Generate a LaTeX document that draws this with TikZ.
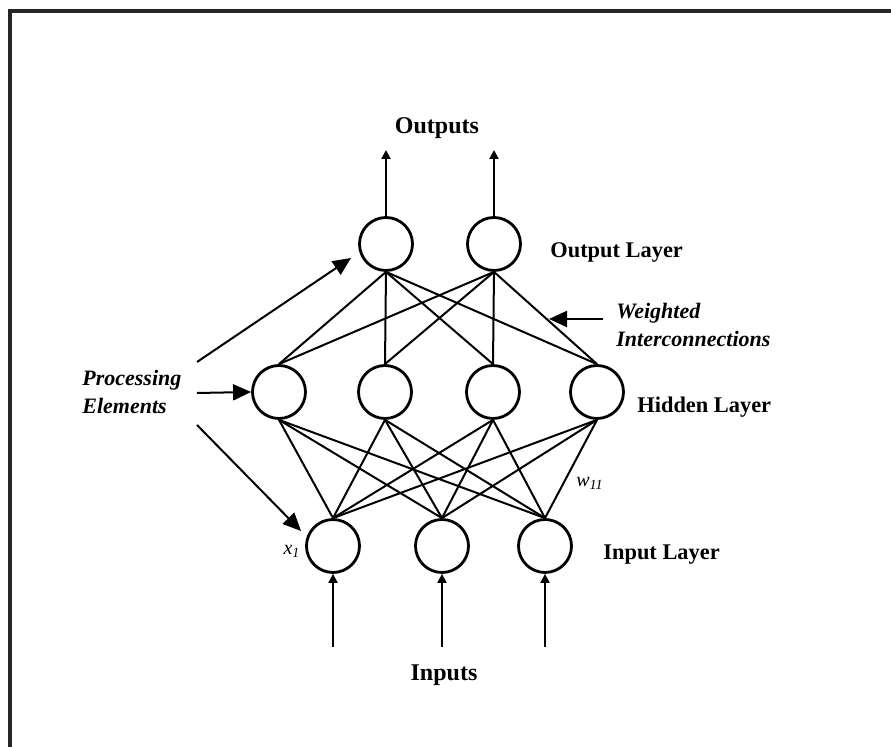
\documentclass[tikz,border=0pt]{standalone}
\usepackage{fontspec}
\setmainfont{Liberation Serif}
\usetikzlibrary{arrows.meta}
\tikzset{
  neuron/.style={circle, draw, line width=1.4pt, minimum size=26.5pt, inner sep=0pt},
  link/.style={line width=1pt},
  bigarrow/.style={line width=1pt, -{Triangle[length=9pt,width=8pt]}},
  smallarrow/.style={line width=1pt, -{Triangle[length=4.5pt,width=4.5pt]}},
  lbl/.style={font=\fontsize{11.2}{13}\selectfont\bfseries, inner sep=0pt},
  ilbl/.style={font=\fontsize{11}{14}\selectfont\bfseries\itshape, inner sep=0pt, align=left},
  title/.style={font=\fontsize{12}{14}\selectfont\bfseries, inner sep=0pt},
  frameline/.style={line width=1.6pt, black!85}
}
\begin{document}
\begin{tikzpicture}[x=0.5pt,y=-0.5pt]
\useasboundingbox (0,0) rectangle (891,747);
% frame
\coordinate (fTL) at (10,11);
\coordinate (fTR) at (891,11);
\coordinate (fBL) at (10,747);
\draw[frameline] (fTR) -- (fTL) -- (fBL);

% neurons
\node[neuron] (o1) at (386,244) {};
\node[neuron] (o2) at (494,244) {};
\node[neuron] (h1) at (279,392) {};
\node[neuron] (h2) at (385,392) {};
\node[neuron] (h3) at (493,392) {};
\node[neuron] (h4) at (597,392) {};
\node[neuron] (i1) at (333,546) {};
\node[neuron] (i2) at (442,546) {};
\node[neuron] (i3) at (545,546) {};

% weighted interconnections
\foreach \o in {o1,o2}
  \foreach \h in {h1,h2,h3,h4}
    \draw[link] (\o.south) -- (\h.north);
\foreach \h in {h1,h2,h3,h4}
  \foreach \i in {i1,i2,i3}
    \draw[link] (\h.south) -- (\i.north);

% outputs
\coordinate (t1) at (386,150);
\coordinate (t2) at (494,150);
\draw[smallarrow] (o1.north) -- (t1);
\draw[smallarrow] (o2.north) -- (t2);
\node[title] (outs) at (437,128) {Outputs};

% inputs
\coordinate (b1) at (333,647);
\coordinate (b2) at (442,647);
\coordinate (b3) at (545,647);
\draw[smallarrow] (b1) -- (i1.south);
\draw[smallarrow] (b2) -- (i2.south);
\draw[smallarrow] (b3) -- (i3.south);
\node[title] (ins) at (444,675) {Inputs};

% layer labels
\node[lbl, anchor=west] (ol) at (550,253) {Output Layer};
\node[lbl, anchor=west] (hl) at (637,407) {Hidden Layer};
\node[lbl, anchor=west] (il) at (603,555) {Input Layer};

% weighted interconnections label
\node[ilbl, anchor=west] (wi) at (616,325) {Weighted\\Interconnections};
\coordinate (wt) at (603,319);
\coordinate (wh) at (549,319);
\draw[bigarrow] (wt) -- (wh);

% processing elements
\node[ilbl, anchor=west] (pe) at (82,392) {Processing\\Elements};
\coordinate (p1s) at (197,362);
\coordinate (p1e) at (351,258);
\coordinate (p2s) at (197,393);
\coordinate (p3s) at (197,425);
\coordinate (p3e) at (301,531);
\draw[bigarrow] (p1s) -- (p1e);
\draw[bigarrow] (p2s) -- (h1.west);
\draw[bigarrow] (p3s) -- (p3e);

% small labels
\node[inner sep=0pt, font=\fontsize{10}{12}\selectfont\itshape] (x1) at (292,551) {x\textsubscript{1}};
\node[inner sep=0pt, font=\fontsize{10}{12}\selectfont\itshape] (w11) at (590,483) {w\textsubscript{11}};
\end{tikzpicture}
\end{document}
